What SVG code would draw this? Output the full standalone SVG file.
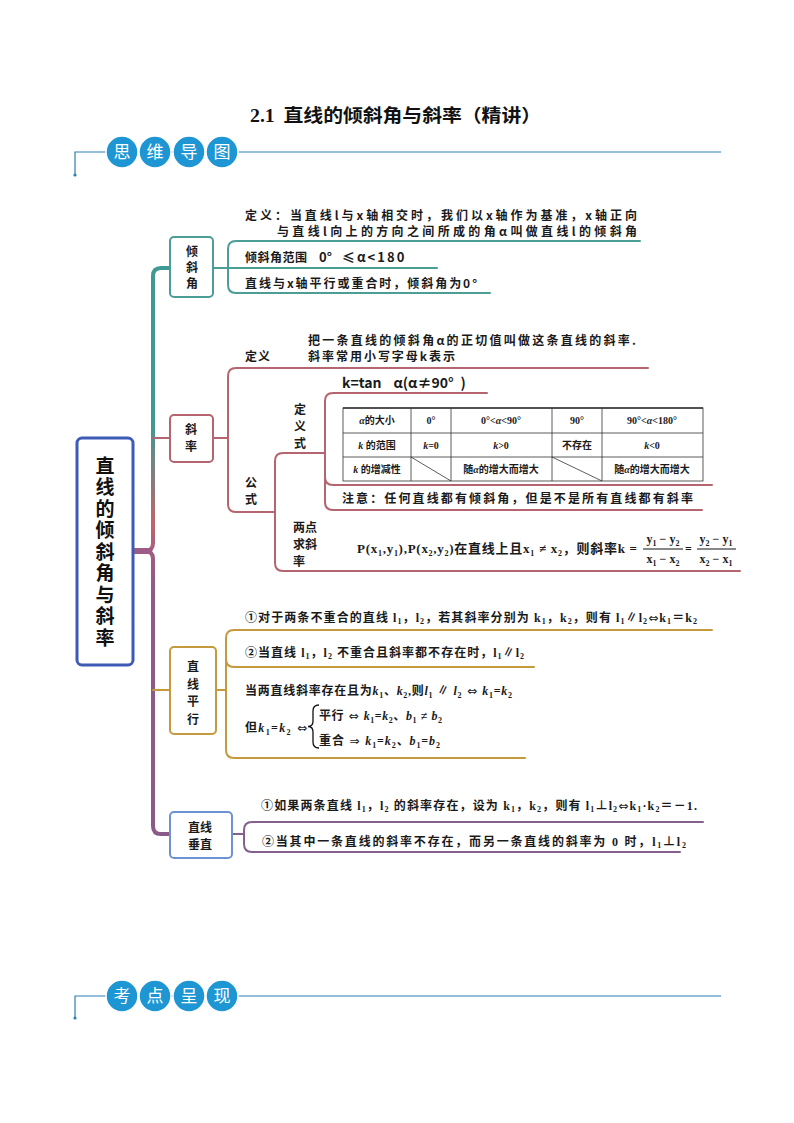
<svg xmlns="http://www.w3.org/2000/svg" width="794" height="1123" viewBox="0 0 794 1123">
<defs>
<style>
.t{font-family:"Noto Sans CJK SC",sans-serif;font-weight:bold;font-size:12px;fill:#1a1a1a}
.s{font-family:"Liberation Serif","Noto Sans CJK SC",serif;font-weight:bold;font-size:12px;fill:#1a1a1a}
.tb{font-family:"Liberation Serif","Noto Sans CJK SC",serif;font-weight:bold;font-size:10px;fill:#1a1a1a;text-anchor:middle}
.hc{fill:#1e96d4;stroke:#fff;stroke-width:1.5}
.ht{font-family:"Noto Sans CJK SC",sans-serif;font-size:17px;fill:#fff;text-anchor:middle}
.hl{stroke:#2b7fb5;stroke-width:1.2;fill:none}
.nd{fill:#fff;stroke-width:2}
.nt{font-family:"Noto Sans CJK SC",sans-serif;font-weight:bold;font-size:12px;fill:#1a1a1a;text-anchor:middle}
.ln{fill:none;stroke-width:2;stroke-linecap:round}
.ar{font-family:"DejaVu Sans",sans-serif;font-weight:normal;font-style:normal}
</style>
<linearGradient id="gUp" gradientUnits="userSpaceOnUse" x1="0" y1="268" x2="0" y2="551">
<stop offset="0" stop-color="#3f9a93"/><stop offset="0.55" stop-color="#3f9a93"/><stop offset="0.9" stop-color="#c0646c"/><stop offset="1" stop-color="#a85c7c"/>
</linearGradient>
<linearGradient id="gDn" gradientUnits="userSpaceOnUse" x1="0" y1="551" x2="0" y2="834">
<stop offset="0" stop-color="#a05c80"/><stop offset="0.15" stop-color="#8e5a8a"/><stop offset="1" stop-color="#8a5a88"/>
</linearGradient>
</defs>
<rect width="794" height="1123" fill="#fff"/>

<text x="250" y="122" font-family="Liberation Serif, Noto Sans CJK SC, serif" font-weight="bold" font-size="18" fill="#111" textLength="291" lengthAdjust="spacingAndGlyphs">2.1<tspan dx="8">直线的倾斜角与斜率（精讲）</tspan></text>

<g id="header1">
<path class="hl" d="M75,175 V152 H721"/>
<circle cx="75" cy="175" r="1.6" fill="#2b7fb5"/>
<circle class="hc" cx="122" cy="152" r="16"/><circle class="hc" cx="155" cy="152" r="16"/><circle class="hc" cx="189" cy="152" r="16"/><circle class="hc" cx="222" cy="152" r="16"/>
<text class="ht" x="122" y="158">思</text><text class="ht" x="155" y="158">维</text><text class="ht" x="189" y="158">导</text><text class="ht" x="222" y="158">图</text>
</g>

<g id="header2">
<path class="hl" d="M75,1018 V996 H721"/>
<circle cx="75" cy="1018" r="1.6" fill="#2b7fb5"/>
<circle class="hc" cx="122" cy="996" r="16"/><circle class="hc" cx="155" cy="996" r="16"/><circle class="hc" cx="189" cy="996" r="16"/><circle class="hc" cx="222" cy="996" r="16"/>
<text class="ht" x="122" y="1002">考</text><text class="ht" x="155" y="1002">点</text><text class="ht" x="189" y="1002">呈</text><text class="ht" x="222" y="1002">现</text>
</g>

<g id="connectors">
<path d="M133,551 H145 Q153,551 153,543 V276 Q153,268 161,268 H170" fill="none" stroke="url(#gUp)" stroke-width="4"/>
<path d="M133,551 H145 Q153,551 153,559 V826 Q153,834 161,834 H170" fill="none" stroke="url(#gDn)" stroke-width="4"/>
<path d="M133,551 H152" stroke="#9c5c86" stroke-width="6"/>
<path class="ln" d="M153,438 H170" stroke="#b5656f"/>
<path class="ln" d="M153,690 H170" stroke="#c49a3c"/>
<path class="ln" stroke="#4a9e96" d="M213,268 H437 M640,241 H236 Q228,241 228,249 V285 Q228,293 236,293 H490"/>
<path class="ln" stroke="#b5656f" d="M213,438 H228 M648,368 H236 Q228,368 228,376 V504 Q228,512 236,512 H275"/>
<path class="ln" stroke="#b5656f" d="M325,453 H283 Q275,453 275,461 V563 Q275,571 283,571 H740"/>
<path class="ln" stroke="#b5656f" d="M487,393 H333 Q325,393 325,401 V502 Q325,510 333,510 H702 M325,477 Q325,485 333,485 H712"/>
<path class="ln" stroke="#c49a3c" d="M216,690 H226 M712,630 H234 Q226,630 226,638 V750 Q226,758 234,758 H525 M226,659 Q226,667 234,667 H534"/>
<path class="ln" stroke="#85608f" d="M232,834 H244 M703,822 H252 Q244,822 244,830 V844 Q244,852 252,852 H680"/>
</g>

<g id="node-main">
<rect x="77" y="438" width="56" height="227" rx="5" fill="#fff" stroke="#3d5bb5" stroke-width="3"/>
<text x="105" y="456" writing-mode="tb" letter-spacing="2.5" font-family="Noto Sans CJK SC, sans-serif" font-weight="bold" font-size="19" fill="#111">直线的倾斜角与斜率</text>
</g>

<g id="node-qingxiejiao">
<rect class="nd" x="170" y="237" width="43" height="60" rx="4" stroke="#4a9e96"/>
<text class="nt"><tspan x="192" y="256">倾</tspan><tspan x="192" y="272">斜</tspan><tspan x="192" y="288">角</tspan></text>
</g>

<g id="node-xielv">
<rect class="nd" x="170" y="415" width="43" height="47" rx="4" stroke="#b5656f"/>
<text class="nt"><tspan x="191" y="434">斜</tspan><tspan x="191" y="451">率</tspan></text>
</g>

<g id="node-pingxing">
<rect class="nd" x="170" y="647" width="46" height="87" rx="4" stroke="#c49a3c"/>
<text class="nt"><tspan x="193" y="671">直</tspan><tspan x="193" y="689">线</tspan><tspan x="193" y="706">平</tspan><tspan x="193" y="724">行</tspan></text>
</g>

<g id="node-chuizhi">
<rect class="nd" x="170" y="812" width="62" height="46" rx="4" stroke="#6d92d4"/>
<text class="nt"><tspan x="200" y="832">直线</tspan><tspan x="200" y="849">垂直</tspan></text>
</g>

<g id="qxj-texts">
<text class="t" x="245" y="220" textLength="392" lengthAdjust="spacing">定义：当直线l与x轴相交时，我们以x轴作为基准，x轴正向</text>
<text class="t" x="277" y="236" textLength="360" lengthAdjust="spacing">与直线l向上的方向之间所成的角α叫做直线l的倾斜角</text>
<text class="t" x="245" y="262" textLength="62" lengthAdjust="spacing">倾斜角范围</text>
<text class="t" x="319" y="262" style="font-size:13px">0°<tspan x="342">≤</tspan><tspan x="357" style="letter-spacing:2px">α&lt;180</tspan></text>
<text class="t" x="245" y="288" textLength="232" lengthAdjust="spacing">直线与x轴平行或重合时，倾斜角为0°</text>
</g>

<g id="xl-texts">
<text class="t" x="308" y="345" textLength="328" lengthAdjust="spacing">把一条直线的倾斜角α的正切值叫做这条直线的斜率.</text>
<text class="t" x="245" y="361" textLength="25" lengthAdjust="spacing">定义</text>
<text class="t" x="308" y="361" textLength="147" lengthAdjust="spacing">斜率常用小写字母k表示</text>
<text class="t" x="342" y="388" style="font-size:14px">k=tan<tspan dx="12">α(α≠90°</tspan><tspan dx="7">)</tspan></text>
<text class="nt"><tspan x="300" y="414">定</tspan><tspan x="300" y="431">义</tspan><tspan x="300" y="448">式</tspan></text>
<text class="nt"><tspan x="251" y="487">公</tspan><tspan x="251" y="504">式</tspan></text>
<text class="t" x="342" y="503" textLength="351" lengthAdjust="spacing">注意：任何直线都有倾斜角，但是不是所有直线都有斜率</text>
<text class="t"><tspan x="293" y="532">两点</tspan><tspan x="293" y="549">求斜</tspan><tspan x="293" y="566">率</tspan></text>
<text class="s" x="357" y="553" style="font-size:13px" textLength="280" lengthAdjust="spacing">P(x<tspan font-size="8" dy="3">1</tspan><tspan dy="-3">,y</tspan><tspan font-size="8" dy="3">1</tspan><tspan dy="-3">),P(x</tspan><tspan font-size="8" dy="3">2</tspan><tspan dy="-3">,y</tspan><tspan font-size="8" dy="3">2</tspan><tspan dy="-3">)在直线上且x</tspan><tspan font-size="8" dy="3">1</tspan><tspan dy="-3"> ≠ x</tspan><tspan font-size="8" dy="3">2</tspan><tspan dy="-3">，则斜率k =</tspan></text>
<text class="s" x="663" y="543" text-anchor="middle">y<tspan font-size="8" dy="3">1</tspan><tspan dy="-3"> − y</tspan><tspan font-size="8" dy="3">2</tspan></text>
<line x1="643" y1="549" x2="683" y2="549" stroke="#111" stroke-width="1"/>
<text class="s" x="663" y="563" text-anchor="middle">x<tspan font-size="8" dy="3">1</tspan><tspan dy="-3"> − x</tspan><tspan font-size="8" dy="3">2</tspan></text>
<text class="s" x="685" y="553">=</text>
<text class="s" x="716" y="543" text-anchor="middle">y<tspan font-size="8" dy="3">2</tspan><tspan dy="-3"> − y</tspan><tspan font-size="8" dy="3">1</tspan></text>
<line x1="697" y1="549" x2="736" y2="549" stroke="#111" stroke-width="1"/>
<text class="s" x="716" y="563" text-anchor="middle">x<tspan font-size="8" dy="3">2</tspan><tspan dy="-3"> − x</tspan><tspan font-size="8" dy="3">1</tspan></text>
</g>

<g id="table">
<g stroke="#333" stroke-width="0.8" fill="none">
<rect x="343" y="408" width="360" height="73"/>
<line x1="343" y1="408" x2="703" y2="408" stroke-width="1.6"/>
<line x1="343" y1="433" x2="703" y2="433"/>
<line x1="343" y1="457" x2="703" y2="457"/>
<line x1="411" y1="408" x2="411" y2="481"/>
<line x1="451" y1="408" x2="451" y2="481"/>
<line x1="552" y1="408" x2="552" y2="481"/>
<line x1="602" y1="408" x2="602" y2="481"/>
<line x1="411" y1="457" x2="451" y2="481"/>
<line x1="552" y1="457" x2="602" y2="481"/>
</g>
<text class="tb" x="377" y="424"><tspan font-style="italic">α</tspan>的大小</text>
<text class="tb" x="431" y="424">0°</text>
<text class="tb" x="501" y="424">0°&lt;<tspan font-style="italic">α</tspan>&lt;90°</text>
<text class="tb" x="577" y="424">90°</text>
<text class="tb" x="652" y="424">90°&lt;<tspan font-style="italic">α</tspan>&lt;180°</text>
<text class="tb" x="377" y="449"><tspan font-style="italic">k</tspan> 的范围</text>
<text class="tb" x="431" y="449"><tspan font-style="italic">k</tspan>=0</text>
<text class="tb" x="501" y="449"><tspan font-style="italic">k</tspan>&gt;0</text>
<text class="tb" x="577" y="449">不存在</text>
<text class="tb" x="652" y="449"><tspan font-style="italic">k</tspan>&lt;0</text>
<text class="tb" x="377" y="473"><tspan font-style="italic">k</tspan> 的增减性</text>
<text class="tb" x="501" y="473">随<tspan font-style="italic">α</tspan>的增大而增大</text>
<text class="tb" x="652" y="473">随<tspan font-style="italic">α</tspan>的增大而增大</text>
</g>

<g id="px-texts">
<text class="s" x="245" y="622" textLength="452" lengthAdjust="spacing">①对于两条不重合的直线 l<tspan font-size="8" dy="2">1</tspan><tspan dy="-2">，l</tspan><tspan font-size="8" dy="2">2</tspan><tspan dy="-2">，若其斜率分别为 k</tspan><tspan font-size="8" dy="2">1</tspan><tspan dy="-2">，k</tspan><tspan font-size="8" dy="2">2</tspan><tspan dy="-2">，则有 l</tspan><tspan font-size="8" dy="2">1</tspan><tspan dy="-2">∥l</tspan><tspan font-size="8" dy="2">2</tspan><tspan dy="-2" class="ar">⇔</tspan><tspan>k</tspan><tspan font-size="8" dy="2">1</tspan><tspan dy="-2">＝k</tspan><tspan font-size="8" dy="2">2</tspan></text>
<text class="s" x="245" y="657" textLength="279" lengthAdjust="spacing">②当直线 l<tspan font-size="8" dy="2">1</tspan><tspan dy="-2">，l</tspan><tspan font-size="8" dy="2">2</tspan><tspan dy="-2"> 不重合且斜率都不存在时，l</tspan><tspan font-size="8" dy="2">1</tspan><tspan dy="-2">∥l</tspan><tspan font-size="8" dy="2">2</tspan></text>
<text class="s" x="245" y="695" font-weight="normal" textLength="267" lengthAdjust="spacing">当两直线斜率存在且为<tspan font-style="italic">k</tspan><tspan font-size="8" dy="3">1</tspan><tspan dy="-3">、</tspan><tspan font-style="italic">k</tspan><tspan font-size="8" dy="3">2</tspan><tspan dy="-3">,则</tspan><tspan font-style="italic">l</tspan><tspan font-size="8" dy="3">1</tspan><tspan dy="-3"> ∥ </tspan><tspan font-style="italic">l</tspan><tspan font-size="8" dy="3">2</tspan><tspan dy="-3" class="ar"> ⇔ </tspan><tspan font-style="italic">k</tspan><tspan font-size="8" dy="3">1</tspan><tspan dy="-3">=</tspan><tspan font-style="italic">k</tspan><tspan font-size="8" dy="3">2</tspan></text>
<text class="s" x="245" y="732" font-weight="normal" textLength="62" lengthAdjust="spacing">但<tspan font-style="italic">k</tspan><tspan font-size="8" dy="3">1</tspan><tspan dy="-3">=</tspan><tspan font-style="italic">k</tspan><tspan font-size="8" dy="3">2</tspan><tspan dy="-3" class="ar"> ⇔</tspan></text>
<path d="M319,705 Q313,705 313,711 V721 Q313,726.5 308,726.5 Q313,726.5 313,732 V742 Q313,748 319,748" fill="none" stroke="#111" stroke-width="1.3"/>
<text class="s" x="319" y="720" font-weight="normal" textLength="123" lengthAdjust="spacing">平行<tspan class="ar"> ⇔ </tspan><tspan font-style="italic">k</tspan><tspan font-size="8" dy="3">1</tspan><tspan dy="-3">=</tspan><tspan font-style="italic">k</tspan><tspan font-size="8" dy="3">2</tspan><tspan dy="-3">、</tspan><tspan font-style="italic">b</tspan><tspan font-size="8" dy="3">1</tspan><tspan dy="-3"> ≠ </tspan><tspan font-style="italic">b</tspan><tspan font-size="8" dy="3">2</tspan></text>
<text class="s" x="319" y="745" font-weight="normal" textLength="121" lengthAdjust="spacing">重合<tspan class="ar"> ⇒ </tspan><tspan font-style="italic">k</tspan><tspan font-size="8" dy="3">1</tspan><tspan dy="-3">=</tspan><tspan font-style="italic">k</tspan><tspan font-size="8" dy="3">2</tspan><tspan dy="-3">、</tspan><tspan font-style="italic">b</tspan><tspan font-size="8" dy="3">1</tspan><tspan dy="-3">=</tspan><tspan font-style="italic">b</tspan><tspan font-size="8" dy="3">2</tspan></text>
</g>

<g id="cz-texts">
<text class="s" x="261" y="810" textLength="436" lengthAdjust="spacing">①如果两条直线 l<tspan font-size="8" dy="2">1</tspan><tspan dy="-2">，l</tspan><tspan font-size="8" dy="2">2</tspan><tspan dy="-2"> 的斜率存在，设为 k</tspan><tspan font-size="8" dy="2">1</tspan><tspan dy="-2">，k</tspan><tspan font-size="8" dy="2">2</tspan><tspan dy="-2">，则有 l</tspan><tspan font-size="8" dy="2">1</tspan><tspan dy="-2">⊥l</tspan><tspan font-size="8" dy="2">2</tspan><tspan dy="-2" class="ar">⇔</tspan><tspan>k</tspan><tspan font-size="8" dy="2">1</tspan><tspan dy="-2">·k</tspan><tspan font-size="8" dy="2">2</tspan><tspan dy="-2">＝－1.</tspan></text>
<text class="s" x="262" y="846" textLength="424" lengthAdjust="spacing">②当其中一条直线的斜率不存在，而另一条直线的斜率为 0 时，l<tspan font-size="8" dy="2">1</tspan><tspan dy="-2">⊥l</tspan><tspan font-size="8" dy="2">2</tspan></text>
</g>
</svg>
